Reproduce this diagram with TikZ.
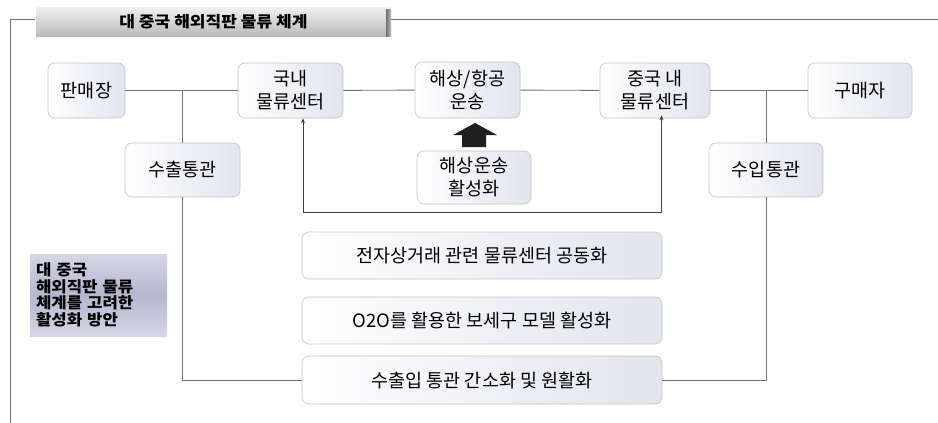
\documentclass[tikz,border=0pt]{standalone}
\usepackage{fontspec}
\setmainfont{Noto Sans CJK KR}
\newfontfamily\widefont[FakeStretch=1.1]{Noto Sans CJK KR}
\usetikzlibrary{arrows.meta}
\definecolor{boxline}{RGB}{196,196,200}
\definecolor{boxend}{RGB}{226,228,238}
\definecolor{linegray}{RGB}{115,115,115}
\definecolor{lavdark}{RGB}{182,182,206}
\definecolor{lavlight}{RGB}{214,214,230}
\begin{document}
\begin{tikzpicture}[x=1pt,y=-1pt,
  box/.style={draw=boxline, line width=0.6pt, rounded corners=7pt, left color=white, right color=boxend,
    align=center, font=\fontsize{18.5}{23}\selectfont, inner sep=0pt},
  conn/.style={draw=linegray, line width=0.9pt},
  frameline/.style={draw=linegray, line width=0.8pt},
]
\useasboundingbox (0,0) rectangle (938,423);
% frame and title
\node[minimum width=355pt, minimum height=29pt, inner sep=0pt,
  top color={rgb,255:red,240;green,240;blue,240}, bottom color={rgb,255:red,185;green,185;blue,188},
  font=\widefont\fontsize{15.5}{17}\bfseries\selectfont] (title) at (213.5,22) {대 중국 해외직판 물류 체계};
\fill[left color={rgb,255:red,110;green,110;blue,115}, right color={rgb,255:red,190;green,190;blue,195}] (386,9) rectangle (391,36);
\coordinate (fl) at (35,19);
\coordinate (fr) at (391,19);
\coordinate (tl) at (10,19);
\coordinate (bl) at (10,423);
\coordinate (tr) at (938,19);
\draw[frameline] (fl) -- (tl) -- (bl);
\draw[frameline] (fr) -- (tr);
% nodes
\node[box, minimum width=77pt, minimum height=55pt] (sell) at (86.5,90.5) {판매장};
\node[box, minimum width=105pt, minimum height=55pt] (dom) at (290.5,90.5) {국내\\물류센터};
\node[box, minimum width=105pt, minimum height=56pt] (sea) at (467.5,90) {해상/항공\\운송};
\node[box, minimum width=110pt, minimum height=55pt] (cn) at (655,90.5) {중국 내\\물류센터};
\node[box, minimum width=104pt, minimum height=55pt] (buy) at (860,90.5) {구매자};
\node[box, minimum width=115pt, minimum height=54pt] (exp) at (182.5,170) {수출통관};
\node[box, minimum width=114pt, minimum height=54pt] (imp) at (766,170) {수입통관};
\node[box, minimum width=114pt, minimum height=53pt] (act) at (474,177.5) {해상운송\\활성화};
\node[box, minimum width=360pt, minimum height=47pt] (ec) at (482,255.5) {전자상거래 관련 물류센터 공동화};
\node[box, minimum width=360pt, minimum height=47pt] (o2o) at (482,320.5) {O2O를 활용한 보세구 모델 활성화};
\node[box, minimum width=360pt, minimum height=48pt] (cust) at (482,380) {수출입 통관 간소화 및 원활화};
\node[minimum width=137pt, minimum height=82pt, inner sep=0pt, text width=125pt, align=left,
  top color=lavlight, bottom color=lavlight, middle color=lavdark,
  font=\widefont\fontsize{15.2}{16.5}\bfseries\selectfont] (plan) at (98.5,295) {대 중국\\해외직판 물류\\체계를 고려한\\활성화 방안};
% block arrow
\fill[black!88] (462,147) -- (462,135) -- (453,135) -- (475,123) -- (497,135) -- (486,135) -- (486,147) -- cycle;
% connectors
\draw[conn] (sell) -- (dom);
\draw[conn] (dom) -- (sea);
\draw[conn] (sea) -- (cn);
\draw[conn] (cn) -- (buy);
\draw[conn] (exp.north) -- (exp.north |- sell.east);
\draw[conn] (exp.south) |- (cust.west);
\draw[conn] (imp.north) -- (imp.north |- buy.west);
\draw[conn] (imp.south) |- (cust.east);
\draw[draw=black!75, line width=0.9pt, {Stealth[length=5pt,width=4pt]}-{Stealth[length=5pt,width=4pt]}]
  ([xshift=12.5pt]dom.south) -- ++(0,94) -| ([xshift=6.5pt,yshift=3pt]cn.south);
\end{tikzpicture}
\end{document}
